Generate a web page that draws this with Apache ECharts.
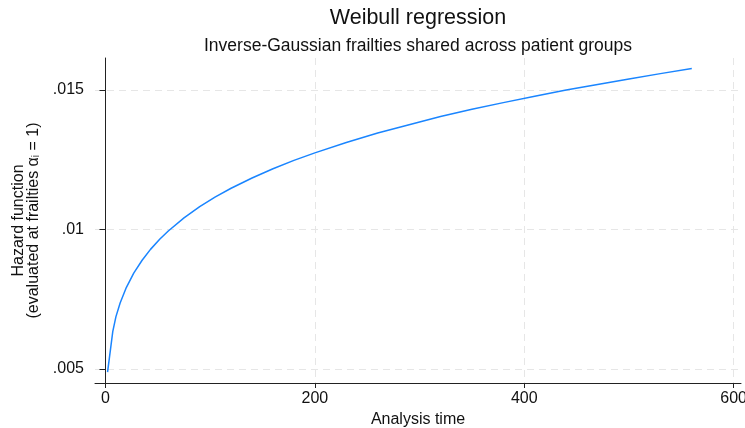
<!DOCTYPE html>
<html>
<head>
<meta charset="utf-8">
<script src="https://cdn.jsdelivr.net/npm/echarts@6/dist/echarts.min.js"></script>
<style>
  html, body { margin: 0; padding: 0; background: #fff; }
  #chart { width: 745px; height: 428px; }
</style>
</head>
<body>
<div id="chart"></div>
<script>
// Weibull hazard evaluated at frailty = 1
const analysisTime = [2, 7, 10, 14, 20, 27, 35, 43, 52, 60, 75, 90, 105, 120, 140, 160, 180, 200,
  230, 260, 290, 320, 350, 380, 410, 440, 470, 500, 530, 560];
const hazard = [0.00489, 0.00635, 0.00688, 0.00737, 0.00793, 0.00844, 0.00890, 0.00929, 0.00966,
  0.00995, 0.01042, 0.01082, 0.01117, 0.01148, 0.01185, 0.01218, 0.01248, 0.01275,
  0.01312, 0.01346, 0.01376, 0.01405, 0.01431, 0.01455, 0.01478, 0.01500, 0.01520,
  0.01540, 0.01559, 0.01577];
const xTicks = [0, 200, 400, 600];
const yTicks = [0.005, 0.01, 0.015];
const yTickLabels = ['.005', '.01', '.015'];

const FONT = '"Liberation Sans", Arial, Helvetica, sans-serif';
const gridStyle = { color: '#e6e6e6', width: 1, type: [7, 5] };

const chart = echarts.init(document.getElementById('chart'), null, { renderer: 'canvas' });
chart.setOption({
  backgroundColor: '#ffffff',
  animation: false,
  graphic: [
    { type: 'text', style: { text: 'Weibull regression', font: '21.5px ' + FONT, fill: '#111', textAlign: 'center', textVerticalAlign: 'middle', x: 418, y: 18 } },
    { type: 'text', style: { text: 'Inverse-Gaussian frailties shared across patient groups', font: '17.5px ' + FONT, fill: '#111', textAlign: 'center', textVerticalAlign: 'middle', x: 418, y: 46 } }
  ],
  grid: { left: 95, right: 4, top: 58, bottom: 45, containLabel: false, outerBoundsMode: 'none' },
  xAxis: {
    type: 'value', min: -10, max: 607,
    name: 'Analysis time', nameLocation: 'middle', nameGap: 29,
    nameTextStyle: { fontFamily: FONT, fontSize: 16, color: '#111' },
    axisLine: { lineStyle: { color: '#222', width: 1 } },
    axisTick: { show: true, length: 5, lineStyle: { color: '#222' }, customValues: xTicks },
    axisLabel: { customValues: xTicks, fontFamily: FONT, fontSize: 16, color: '#111', margin: 8 },
    splitLine: { show: true, lineStyle: gridStyle, customValues: xTicks }
  },
  yAxis: {
    type: 'value', min: 0.0045, max: 0.01615,
    name: 'Hazard function\n(evaluated at frailties α{sub|i} = 1)',
    nameLocation: 'middle', nameGap: 54, nameRotate: 90,
    nameTextStyle: {
      fontFamily: FONT, fontSize: 16, color: '#111', lineHeight: 15, align: 'center',
      rich: { sub: { fontFamily: FONT, fontSize: 10, color: '#111', verticalAlign: 'bottom', padding: [6, 0, 0, 0] } }
    },
    axisLine: { show: true, lineStyle: { color: '#222', width: 1 } },
    axisTick: { show: true, length: 6, lineStyle: { color: '#222' }, customValues: yTicks },
    axisLabel: {
      customValues: yTicks, fontFamily: FONT, fontSize: 16, color: '#111', margin: 11,
      formatter: v => {
        const i = yTicks.findIndex(t => Math.abs(t - v) < 1e-9);
        return i >= 0 ? yTickLabels[i] : '';
      }
    },
    splitLine: { show: true, lineStyle: gridStyle, customValues: yTicks }
  },
  series: [{
    type: 'line',
    data: analysisTime.map((t, i) => [t, hazard[i]]),
    showSymbol: false,
    smooth: false,
    lineStyle: { color: '#1a85ff', width: 1.5 },
    z: 3
  }]
});
</script>
</body>
</html>
